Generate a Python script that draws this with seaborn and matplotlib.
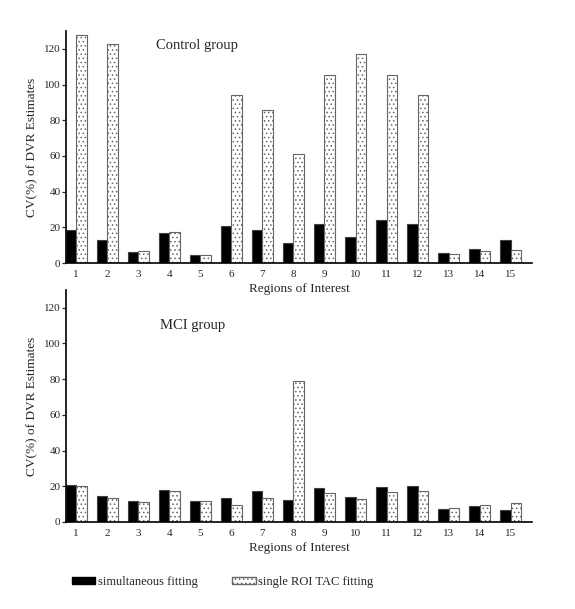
import pandas as pd
import matplotlib
matplotlib.use("Agg")
import matplotlib.pyplot as plt
from matplotlib.patches import Patch
import seaborn as sns

regions = [str(i) for i in range(1, 16)]

# CV(%) of DVR estimates
control_simul = [18.7, 12.9, 6.4, 16.8, 4.5, 20.9, 18.3, 11.2, 22.0, 14.8, 23.9, 21.7, 5.8, 7.9, 12.7]
control_single = [128.0, 123.0, 6.7, 17.2, 4.5, 94.0, 86.0, 61.3, 105.6, 117.4, 105.6, 94.4, 5.2, 6.5, 7.1]
mci_simul = [20.6, 14.6, 11.8, 17.8, 11.8, 13.5, 17.4, 12.3, 19.0, 13.8, 19.4, 20.4, 7.5, 8.8, 6.4]
mci_single = [20.2, 13.6, 11.4, 17.4, 11.8, 9.5, 13.6, 79.0, 16.3, 13.1, 16.8, 17.2, 7.9, 9.3, 10.7]

methods = ["simultaneous fitting", "single ROI TAC fitting"]
y_ticks = [0, 20, 40, 60, 80, 100, 120]


def make_df(simul, single):
    return pd.DataFrame({
        "region": regions * 2,
        "cv": simul + single,
        "method": [methods[0]] * 15 + [methods[1]] * 15,
    })


sns.set_theme(style="ticks")
plt.rcParams["font.family"] = ["Liberation Serif", "DejaVu Serif"]
plt.rcParams["hatch.linewidth"] = 0.6

fig = plt.figure(figsize=(5.75, 6.09), dpi=100)
ax_top = fig.add_axes([0.115, 0.568, 0.81, 0.381])
ax_bot = fig.add_axes([0.115, 0.143, 0.81, 0.381])
# let the top panel's x label show over the lower panel
ax_bot.set_facecolor("none")
ax_top.set_zorder(2)
ax_top.set_facecolor("none")

panels = [
    (ax_top, make_df(control_simul, control_single), "Control group", 3.9, 122),
    (ax_bot, make_df(mci_simul, mci_single), "MCI group", 3.75, 110),
]

for ax, df, title, tx, ty in panels:
    sns.barplot(data=df, x="region", y="cv", hue="method", order=regions,
                hue_order=methods, palette={methods[0]: "black", methods[1]: "white"},
                width=0.68, gap=0, edgecolor="0.25", linewidth=0.8, ax=ax, legend=False)
    for bar in ax.containers[1]:
        bar.set_hatch("....")
        bar.set_edgecolor("0.4")
    ax.set_xlim(-0.32, 14.68)
    ax.set_ylim(0, 130)
    ax.set_yticks(y_ticks)
    ax.set_ylabel("CV(%) of DVR Estimates", fontsize=9.5)
    ax.set_xlabel("Regions of Interest", fontsize=9.5, labelpad=3)
    ax.tick_params(axis="y", length=3, width=0.9, labelsize=8, pad=1)
    ax.tick_params(axis="x", length=0, labelsize=8, pad=5)
    ax.text(tx, ty, title, fontsize=10.5, ha="center", va="center")
    sns.despine(ax=ax)
    for sp in ["left", "bottom"]:
        ax.spines[sp].set_linewidth(1.2)
        ax.spines[sp].set_color("black")

handles = [
    Patch(facecolor="black", edgecolor="black", label=methods[0]),
    Patch(facecolor="white", edgecolor="0.4", hatch="....", label=methods[1]),
]
fig.legend(handles=handles, loc="center left", bbox_to_anchor=(0.125, 0.045), ncol=2,
           frameon=False, fontsize=9, handlelength=1.85, handleheight=0.45,
           handletextpad=0.2, columnspacing=2.8, borderaxespad=0, borderpad=0)

fig.savefig("out.png", dpi=100)
